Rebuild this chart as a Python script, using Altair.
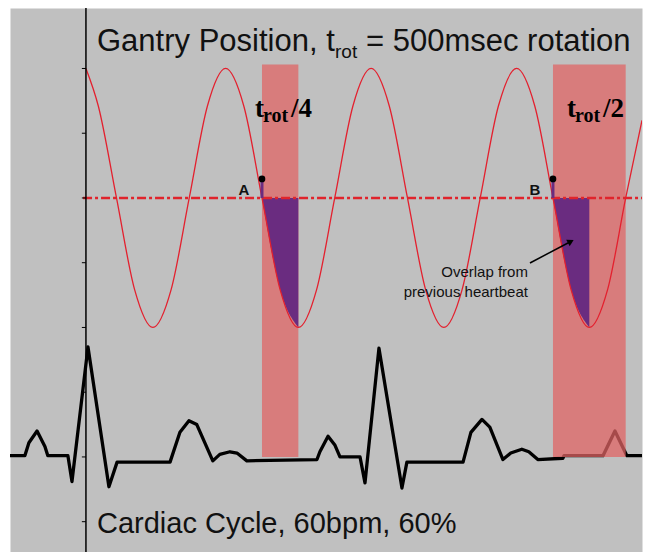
import altair as alt
import pandas as pd

# ---- gantry position (+1 = top of rotation, -1 = bottom), time in ms ----
GANTRY_T = [0, 42.5, 105, 167.5, 230, 292.5, 355, 417.5, 480, 542.5, 605,
            667.5, 730, 792.5, 855, 917.5, 980, 1042.5, 1105, 1167.5, 1230,
            1292.5, 1355, 1417.5, 1480, 1542.5, 1605, 1667.5, 1730, 1792.5,
            1855, 1911]
GANTRY_POS = [1.0, 0.71, 0, -0.71, -1, -0.71, 0, 0.71, 1, 0.71, 0,
              -0.71, -1, -0.71, 0, 0.71, 1, 0.71, 0, -0.71, -1,
              -0.71, 0, 0.71, 1, 0.71, 0, -0.71, -1, -0.71,
              0, 0.6]

# ---- ECG trace, time in ms, amplitude relative to its own baseline ----
ECG_T = [-261, -210, -196, -168, -141, -131, -62, -48, 7, 79, 107, 289,
         323, 354, 381, 436, 460, 495, 519, 553, 794,
         804, 832, 856, 873, 942, 959, 1007, 1086, 1103, 1296,
         1323, 1361, 1388, 1433, 1460, 1498, 1522, 1553, 1639, 1643,
         1777, 1818, 1859, 1911]
ECG_V = [0, 0, 0.10, 0.19, 0.07, 0, 0, -0.20, 0.84, -0.24, -0.05, -0.05,
         0.18, 0.27, 0.24, -0.04, 0.01, 0.03, 0.02, -0.04, -0.03,
         0.03, 0.15, 0.08, -0.01, -0.01, -0.21, 0.83, -0.25, -0.05, -0.05,
         0.18, 0.28, 0.22, -0.03, 0.02, 0.05, 0.03, -0.03, -0.02, 0.0,
         0.0, 0.19, 0.0, 0.0]
ECG_BASELINE = -1.99

# ---- reconstruction windows (ms) ----
WINDOW_START = [605, 1605]
WINDOW_END = [730, 1855]
OVERLAP_END = [730, 1730]
WINDOW_NAME = ["A", "B"]
WINDOW_FRACTION = ["/4", "/2"]
WINDOW_TOP = 1.03
MARKER_V = 0.147

# vertical axis ticks
TICK_V = [-2.5, -2, -1.5, -1, -0.5, 0, 0.5, 1]

T_MIN, T_MAX = -261, 1911
V_MIN, V_MAX = -2.734, 1.467

xs = alt.Scale(domain=[T_MIN, T_MAX], nice=False, zero=False)
ys = alt.Scale(domain=[V_MIN, V_MAX], nice=False, zero=False)

def X(field, **kw):
    return alt.X(field, type="quantitative", scale=xs, axis=None, **kw)

def Y(field, **kw):
    return alt.Y(field, type="quantitative", scale=ys, axis=None, **kw)

gantry = pd.DataFrame({"t": GANTRY_T, "v": GANTRY_POS})
ecg = pd.DataFrame({"t": ECG_T, "v": [v + ECG_BASELINE for v in ECG_V]})
windows = pd.DataFrame({"t": WINDOW_START, "t2": WINDOW_END,
                        "v": [ECG_BASELINE - 0.01] * 2, "v2": [WINDOW_TOP] * 2,
                        "name": WINDOW_NAME, "frac": WINDOW_FRACTION})

overlap_rows = []
for name, start, end in zip(WINDOW_NAME, WINDOW_START, OVERLAP_END):
    for t, v in zip(GANTRY_T, GANTRY_POS):
        if start <= t <= end:
            overlap_rows.append({"t": t, "v": v, "zero": 0.0, "win": name})
overlap = pd.DataFrame(overlap_rows)

markers = pd.DataFrame({"t": WINDOW_START, "v": [MARKER_V] * 2, "zero": [0.0] * 2,
                        "name": WINDOW_NAME})
center = pd.DataFrame({"t": [-10], "t2": [T_MAX], "v": [0.0]})
axis_line = pd.DataFrame({"t": [0], "v": [V_MIN], "v2": [V_MAX]})
ticks = pd.DataFrame({"t": [-14] * len(TICK_V), "t2": [0] * len(TICK_V), "v": TICK_V})

axis_rule = alt.Chart(axis_line).mark_rule(color="black", strokeWidth=1.5).encode(
    x=X("t"), y=Y("v"), y2="v2")
tick_rules = alt.Chart(ticks).mark_rule(color="black", strokeWidth=1).encode(
    x=X("t"), x2="t2", y=Y("v"))

ecg_line = alt.Chart(ecg).mark_line(color="black", strokeWidth=3.3,
                                    strokeJoin="round").encode(x=X("t"), y=Y("v"))

window_rects = alt.Chart(windows).mark_rect(color="#e06464", opacity=0.74).encode(
    x=X("t"), x2="t2", y=Y("v"), y2="v2")

overlap_area = alt.Chart(overlap).mark_area(color="#6a2c80", interpolate="monotone").encode(
    x=X("t"), y=Y("v"), y2="zero", detail="win:N")

gantry_line = alt.Chart(gantry).mark_line(color="#e3202e", strokeWidth=1.3,
                                          interpolate="monotone").encode(
    x=X("t"), y=Y("v"))

center_line = alt.Chart(center).mark_rule(color="#e0242c", strokeWidth=2.5,
                                          strokeDash=[9, 3, 3, 3]).encode(
    x=X("t"), x2="t2", y=Y("v"))

marker_stems = alt.Chart(markers).mark_rule(color="#6a2c80", strokeWidth=3).encode(
    x=X("t"), y=Y("v"), y2="zero")

marker_dots = alt.Chart(markers).mark_point(filled=True, color="black", size=45,
                                            opacity=1).encode(x=X("t"), y=Y("v"))

marker_labels = alt.Chart(markers).mark_text(font="Liberation Sans", fontWeight="bold",
                                             fontSize=15, color="#111", align="center",
                                             baseline="alphabetic", dx=-18, dy=16).encode(
    x=X("t"), y=Y("v"), text="name:N")

# t_rot/4 and t_rot/2 labels above each window
LABEL_T = [581, 1653]
LABEL_V = 0.625
lab = pd.DataFrame({"t": LABEL_T, "v": [LABEL_V] * 2, "frac": WINDOW_FRACTION})
serif = dict(font="Liberation Serif", fontWeight="bold", color="black",
             align="left", baseline="alphabetic")
lab_t = alt.Chart(lab).mark_text(text="t", fontSize=27, **serif).encode(x=X("t"), y=Y("v"))
lab_sub = alt.Chart(lab).mark_text(text="rot", fontSize=20, dx=8, dy=5, **serif).encode(
    x=X("t"), y=Y("v"))
lab_frac = alt.Chart(lab).mark_text(fontSize=27, dx=36, **serif).encode(
    x=X("t"), y=Y("v"), text="frac:N")

# overlap annotation with arrow
NOTE_T, NOTE_V = 1519, -0.61
note = pd.DataFrame({"t": [NOTE_T], "v": [NOTE_V]})
note_text = alt.Chart(note).mark_text(text=["Overlap from", "previous heartbeat"],
                                      font="Liberation Sans", fontSize=15, lineHeight=20,
                                      align="right", baseline="alphabetic",
                                      color="#111").encode(x=X("t"), y=Y("v"))
arrow = pd.DataFrame({"t": [1526], "v": [-0.502], "t2": [1663], "v2": [-0.34]})
arrow_shaft = alt.Chart(arrow).mark_rule(color="black", strokeWidth=1.5).encode(
    x=X("t"), y=Y("v"), x2="t2", y2="v2")
arrow_head = alt.Chart(arrow).mark_point(shape="triangle", filled=True, color="black",
                                         size=55, angle=62, opacity=1).encode(
    x=X("t2"), y=Y("v2"))

# headings
sans = dict(font="Liberation Sans", color="#111", align="left", baseline="alphabetic")
title_a = alt.Chart(note).mark_text(text="Gantry Position, t", fontSize=31, **sans).encode(
    x=alt.value(87), y=alt.value(43))
title_b = alt.Chart(note).mark_text(text="rot", fontSize=19, **sans).encode(
    x=alt.value(325), y=alt.value(50))
title_c = alt.Chart(note).mark_text(text="= 500msec rotation", fontSize=31, **sans).encode(
    x=alt.value(356), y=alt.value(43))
caption = alt.Chart(note).mark_text(text="Cardiac Cycle, 60bpm, 60%", fontSize=29,
                                    **sans).encode(x=alt.value(87), y=alt.value(525))

chart = alt.layer(
    ecg_line, window_rects, overlap_area, gantry_line, center_line,
    axis_rule, tick_rules,
    marker_stems, marker_dots, marker_labels, lab_t, lab_sub, lab_frac,
    note_text, arrow_shaft, arrow_head, title_a, title_b, title_c, caption,
).properties(
    width=632, height=544,
    padding={"left": 10, "top": 8, "right": 3, "bottom": 0},
    autosize=alt.AutoSizeParams(type="none"),
    background="white",
).configure_view(fill="#c0c0c0", stroke="transparent", clip=True)

chart.save("out.html", embed_options={"renderer": "svg", "actions": False})
